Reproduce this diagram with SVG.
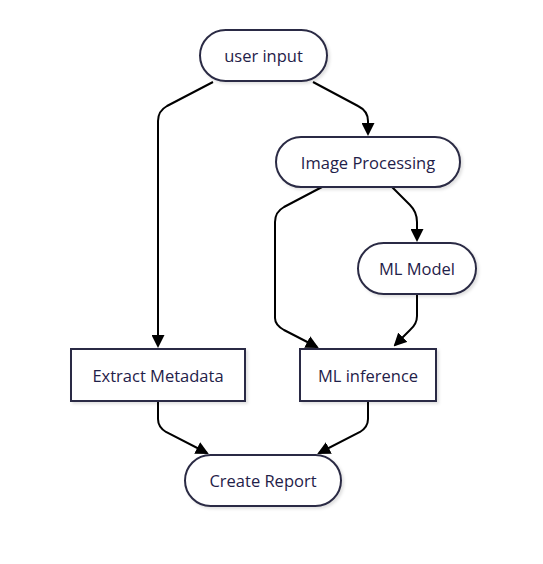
<svg xmlns="http://www.w3.org/2000/svg" width="543" height="564" viewBox="0 0 543 564">
<style>
.node rect{fill:#ffffff;stroke:#2c2c44;stroke-width:2;filter:url(#sh)}
.node text{font-family:"Open Sans","Noto Sans",sans-serif;font-size:16.5px;fill:#1f2149;text-anchor:middle;dominant-baseline:central}
.edge{fill:none;stroke:#000;stroke-width:2;marker-end:url(#arr)}
</style>
<defs>
<marker id="arr" markerWidth="13" markerHeight="13" refX="11" refY="6.5" orient="auto" markerUnits="userSpaceOnUse" viewBox="0 0 13 13">
<path d="M0,0 L13,6.5 L0,13 z" fill="#000"/>
</marker>
<filter id="sh" x="-10%" y="-10%" width="130%" height="140%">
<feDropShadow dx="2" dy="2" stdDeviation="1.5" flood-color="#000" flood-opacity="0.12"/>
</filter>
</defs>
<rect width="543" height="564" fill="#ffffff"/>
<g id="connectors">
<path class="edge" d="M213,82 L167,106 Q158,111 158,121 L158,346"/>
<path class="edge" d="M313,82 L358,106 Q368,111 368,121 L368,134"/>
<path class="edge" d="M322,187 L284,207 Q275,212 275,222 L275,318 Q275,325 284,330 L317,347"/>
<path class="edge" d="M392,187 L410,205 Q417,212 417,222 L417,240"/>
<path class="edge" d="M417,294 L417,316 Q417,324 410,330 L395,345"/>
<path class="edge" d="M158,401 L158,419 Q158,427 166,432 L207,453"/>
<path class="edge" d="M368,401 L368,419 Q368,427 360,432 L319,453"/>
</g>
<g id="user_input" class="node"><rect x="200" y="30" width="127" height="51" rx="25.5"/><text x="263.5" y="55.5">user input</text></g>
<g id="image_processing" class="node"><rect x="276" y="137" width="184" height="50" rx="25"/><text x="368" y="162">Image Processing</text></g>
<g id="ml_model" class="node"><rect x="358" y="243" width="118" height="51" rx="25.5"/><text x="417" y="268.5">ML Model</text></g>
<g id="extract_metadata" class="node"><rect x="71" y="349" width="174" height="52"/><text x="158" y="375">Extract Metadata</text></g>
<g id="ml_inference" class="node"><rect x="300" y="349" width="136" height="52"/><text x="368" y="375">ML inference</text></g>
<g id="create_report" class="node"><rect x="185" y="455" width="156" height="51" rx="25.5"/><text x="263" y="480.5">Create Report</text></g>
</svg>
